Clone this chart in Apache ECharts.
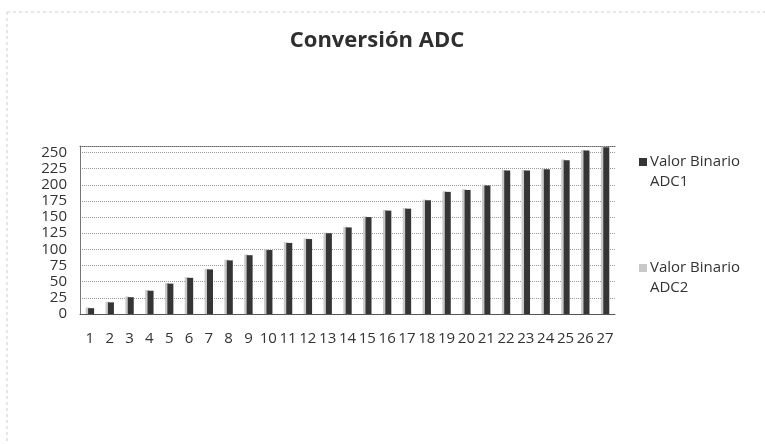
<!DOCTYPE html>
<html>
<head>
<meta charset="utf-8">
<script src="https://cdn.jsdelivr.net/npm/echarts@6/dist/echarts.min.js"></script>
<style>
  html, body { margin: 0; padding: 0; background: #fff; }
  #chart { width: 765px; height: 444px; }
</style>
</head>
<body>
<div id="chart"></div>
<script>
// Sample numbers 1..27
const categories = ['1','2','3','4','5','6','7','8','9','10','11','12','13','14','15','16','17','18','19','20','21','22','23','24','25','26','27'];
// Converted binary values for each ADC channel
const adc1 = [9, 18, 26, 36, 47, 56, 69, 83, 91, 99, 110, 116, 125, 134, 150, 160, 163, 176, 189, 192, 199, 222, 222, 224, 238, 253, 258];
const adc2 = [10, 19, 27, 37, 48, 57, 70, 84, 92, 100, 111, 117, 126, 135, 151, 161, 164, 177, 190, 193, 200, 223, 223, 225, 239, 254, 259];
const seriesNames = ['Valor Binario\nADC1', 'Valor Binario\nADC2'];

const chart = echarts.init(document.getElementById('chart'), null, { renderer: 'canvas' });
const font = '"Open Sans", "Liberation Sans", sans-serif';

// legend marker: small square sitting beside the first text line
const legendIcon = 'path://M0,0L8,0L8,8L0,8Z M0,28L0.01,28';

chart.setOption({
  animation: false,
  backgroundColor: '#ffffff',
  title: {
    text: 'Conversión ADC',
    left: 372,
    top: 25,
    textAlign: 'center',
    textStyle: { fontFamily: font, fontSize: 22, fontWeight: 'bold', color: '#2f2f2f' }
  },
  legend: {
    data: [seriesNames[0], seriesNames[1]],
    orient: 'vertical',
    left: 634,
    top: 147,
    itemGap: 66,
    itemWidth: 8,
    itemHeight: 28,
    icon: legendIcon,
    textStyle: { fontFamily: font, fontSize: 15, color: '#333', lineHeight: 20, padding: [0, 0, 0, -2] }
  },
  grid: { left: 80, right: 150, top: 146, bottom: 130 },
  xAxis: [{
    type: 'category',
    data: categories,
    axisLine: { lineStyle: { color: '#555', width: 1 } },
    axisTick: { show: false },
    axisLabel: { fontFamily: font, fontSize: 15, color: '#333', margin: 17, interval: 0 }
  }, {
    type: 'category',
    data: categories,
    position: 'top',
    axisLine: { lineStyle: { color: '#666', width: 1, type: 'dotted' } },
    axisTick: { show: false },
    axisLabel: { show: false }
  }],
  yAxis: {
    type: 'value',
    min: 0,
    max: 260,
    interval: 25,
    axisLine: { show: true, lineStyle: { color: '#777', width: 1 } },
    axisTick: { show: false },
    axisLabel: { fontFamily: font, fontSize: 15, color: '#333', margin: 13 },
    splitLine: { lineStyle: { color: '#999', type: 'dotted', width: 1 } }
  },
  series: [{
    name: seriesNames[1],
    type: 'bar',
    data: adc2,
    barWidth: 4,
    barGap: '-40%',
    itemStyle: { color: '#c9c9c9' }
  }, {
    name: seriesNames[0],
    type: 'bar',
    data: adc1,
    barWidth: 6,
    itemStyle: { color: '#353535' }
  }],
  graphic: [{
    type: 'line',
    shape: { x1: 7, y1: 12, x2: 765, y2: 12 },
    style: { stroke: '#cfcfcf', lineWidth: 1, lineDash: [3, 3] }
  }, {
    type: 'line',
    shape: { x1: 7, y1: 12, x2: 7, y2: 444 },
    style: { stroke: '#cfcfcf', lineWidth: 1, lineDash: [3, 3] }
  }]
});
</script>
</body>
</html>
